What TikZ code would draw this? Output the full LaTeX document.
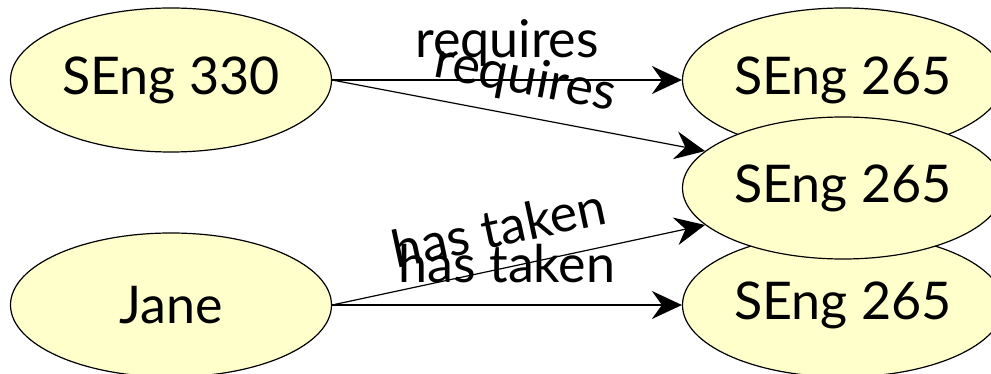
\documentclass[tikz,border=0pt]{standalone}
\usepackage{fontspec}
\setmainfont{Lato}
\usetikzlibrary{shapes.geometric,arrows.meta}
\definecolor{nodefill}{RGB}{255,255,204}
\begin{document}
\begin{tikzpicture}[x=1pt,y=-1pt,
  course/.style={ellipse,draw=black,line width=1.2pt,fill=nodefill,
    minimum width=321pt,minimum height=144pt,inner sep=0pt,
    font=\fontsize{52}{60}\selectfont},
  rel/.style={line width=1.2pt,-{Stealth[length=30pt,width=28pt,inset=10pt]}},
  lbl/.style={anchor=base,yshift=22pt,font=\fontsize{52}{60}\selectfont}]
\useasboundingbox (0,0) rectangle (991,374);
% subjects on the left
\node[course] (s330) at (171,80) {SEng 330};
\node[course] (jane) at (171,305) {Jane};
% objects on the right; the middle one lies over the other two
\node[course] (top) at (843,80) {SEng 265};
\node[course] (bot) at (843,305) {SEng 265};
\node[course,minimum height=142pt] (mid) at (843,188) {SEng 265};
% relations
\draw[rel] (s330.east) -- node[lbl,midway] {requires} (top.west);
\draw[rel] (s330.east) -- node[lbl,sloped,pos=0.5] {requires} (mid.165);
\draw[rel] (jane.east) -- node[lbl,sloped,pos=0.47] {has taken} (mid.195);
\draw[rel] (jane.east) -- node[lbl,midway] {has taken} (bot.west);
\end{tikzpicture}
\end{document}
